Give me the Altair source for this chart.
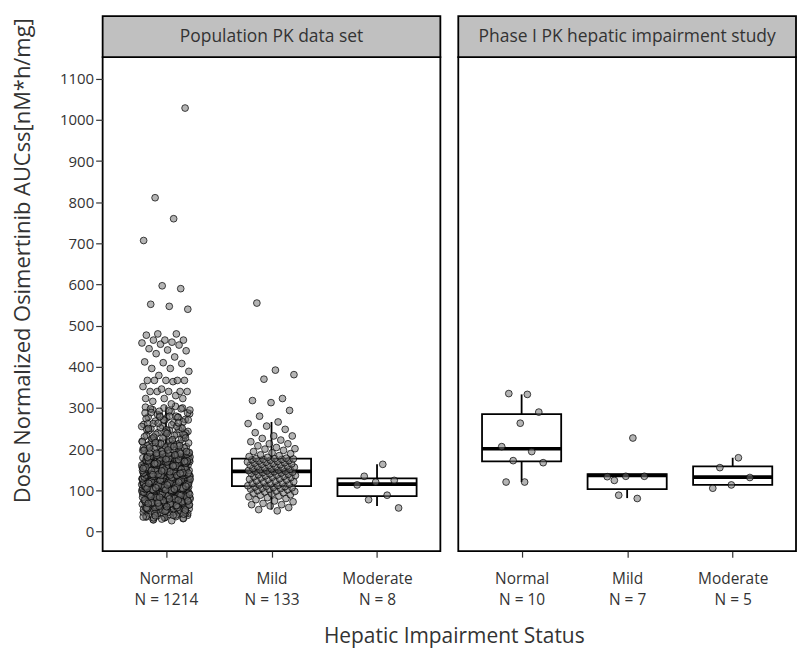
import altair as alt
import pandas as pd

# ---------------- data ----------------
cats = ["Normal", "Mild", "Moderate"]
panels = ["Population PK data set", "Phase I PK hepatic impairment study"]
n_pop = [1214, 133, 8]
n_ph1 = [10, 7, 5]

pop_normal = [
    26, 29, 31, 33, 35, 36, 38, 39, 41, 42, 43, 45, 46, 47, 48, 49, 51, 52, 53, 54,
    55, 56, 57, 58, 59, 60, 61, 61, 62, 63, 64, 65, 66, 66, 67, 68, 69, 70, 70, 71,
    72, 73, 73, 74, 75, 76, 76, 77, 78, 78, 79, 80, 80, 81, 82, 82, 83, 84, 84, 85,
    85, 86, 87, 87, 88, 88, 89, 90, 90, 91, 91, 92, 92, 93, 93, 94, 94, 95, 95, 96,
    96, 97, 97, 98, 98, 99, 99, 100, 100, 100,
    28, 32, 34, 37, 40, 44, 44, 47, 50, 50, 52, 54, 55, 57, 58, 60, 62, 63, 64, 65,
    67, 68, 69, 71, 72, 74, 75, 77, 78, 79, 81, 83, 83, 85, 86, 86, 88, 89, 89, 91,
    92, 93, 94, 95, 96, 97, 98, 99, 45, 53, 59, 66, 73, 79, 84, 90, 93, 97, 56, 62,
    71, 76, 87, 92, 96,
    30, 35, 39, 43, 48, 51, 55, 58, 61, 64, 67, 70, 72, 75, 77, 80, 82, 84, 87, 89,
    91, 94, 96, 98, 33, 42, 49, 57, 63, 69, 74, 79, 85, 88, 92, 95, 99, 38, 52, 60,
    68, 76, 83, 90, 97,
    101, 101, 102, 102, 102, 103, 103, 104, 104, 104, 105, 105, 106, 106, 106, 107,
    107, 108, 108, 108, 109, 109, 110, 110, 110, 111, 111, 112, 112, 112, 113, 113,
    114, 114, 114, 115, 115, 116, 116, 116, 117, 117, 118, 118, 118, 119, 119, 120,
    120, 120, 121, 121, 122, 122, 122, 123, 123, 124, 124, 124, 125, 125, 126, 126,
    126, 127, 127, 128, 128, 128, 129, 129, 130, 130, 130, 131, 131, 132, 132, 132,
    133, 133, 134, 134, 134, 135, 135, 135,
    101, 103, 104, 105, 107, 108, 109, 110, 111, 113, 114, 115, 117, 118, 119, 121,
    122, 123, 125, 126, 127, 129, 130, 131, 133, 134, 102, 106, 109, 112, 115, 119,
    124, 128, 132, 100, 104, 107, 111, 116, 120, 125, 129, 133, 105, 113, 118, 122,
    127, 131, 103, 110, 117, 123, 134,
    100, 102, 105, 107, 109, 112, 114, 116, 119, 121, 123, 126, 128, 130, 133, 135,
    101, 104, 108, 111, 115, 118, 122, 125, 129, 132, 103, 106, 110, 113, 117, 120,
    124, 127, 131, 134,
    136, 136, 137, 138, 138, 139, 140, 140, 141, 142, 142, 143, 144, 144, 145, 146,
    146, 147, 148, 148, 149, 150, 150, 151, 152, 152, 153, 154, 154, 155, 156, 156,
    157, 158, 158, 159, 160, 160, 161, 162, 162, 163, 164, 164, 165, 166, 166, 167,
    168, 168, 169, 170, 170, 171, 172, 172, 173, 174, 174, 175, 176, 176, 177, 178,
    178, 179, 180, 180, 181, 182, 182, 183, 184, 184,
    137, 139, 141, 143, 145, 147, 149, 151, 153, 155, 157, 159, 161, 163, 165, 167,
    169, 171, 173, 175, 177, 179, 181, 183, 138, 142, 146, 150, 154, 158, 162, 166,
    170, 174, 178, 182, 140, 145, 151, 156, 161, 167, 172, 177, 183, 136, 148, 157,
    163, 169, 176, 181,
    136, 139, 142, 145, 148, 151, 154, 157, 160, 163, 166, 169, 172, 175, 178, 181,
    184, 138, 143, 149, 155, 160, 166, 171, 177, 182, 141, 147, 153, 159, 165, 170,
    176, 180,
    186, 188, 190, 192, 194, 196, 198, 200, 202, 204, 206, 209, 211, 214, 216, 219,
    222, 225, 228, 231, 234, 237, 240, 243, 246, 250, 253, 257, 260, 264, 268, 272,
    276, 278, 278, 282, 286, 291, 296, 300, 300, 302, 304,
    185, 187, 189, 191, 193, 195, 197, 199, 201, 203, 205, 208, 210, 213, 215, 218,
    221, 224, 227, 230, 233, 236, 239, 242, 245, 248, 252, 255, 259, 262, 266, 270,
    274, 280, 284, 288, 293, 298, 189, 195, 203, 212, 221, 233, 247, 262, 277, 292,
    192, 207, 226, 251, 271, 288,
    186, 190, 194, 198, 203, 208, 213, 218, 223, 229, 235, 241, 248, 255, 263, 271,
    280, 289, 298, 188, 197, 206, 216, 227, 238, 250, 264, 279, 295,
    310, 316, 323, 323, 323, 330, 340, 340, 340, 340, 340, 346, 352, 364, 367, 367,
    367, 367, 367, 379, 389, 396, 396, 408, 410, 412, 424, 432, 439, 441, 444, 453,
    455, 458, 460, 465, 465, 465, 477, 480, 480, 540, 547, 552, 590, 597, 707, 760,
    811, 1029,
]
pop_mild = [
    50, 53, 58, 62, 65, 65, 68, 72, 74, 77, 80, 82, 84, 86, 88, 89, 91, 93, 94, 96,
    97, 98, 99, 101, 102, 103, 104, 105, 106, 107, 108, 109, 110,
    111, 112, 113, 115, 116, 117, 118, 120, 121, 122, 123, 125, 126, 127, 128, 130,
    131, 132, 133, 134, 135, 136, 137, 138, 139, 140, 141, 142, 143, 144, 145, 146, 146,
    147, 148, 149, 150, 151, 152, 153, 154, 155, 156, 157, 158, 159, 160, 161, 162,
    163, 164, 165, 166, 167, 168, 169, 170, 171, 172, 173, 174, 175, 175, 176, 177, 177,
    178, 180, 182, 184, 186, 189, 191, 194, 197, 200, 201, 204, 208, 213, 213, 218,
    222, 226, 232, 232, 240, 248, 256, 262, 266, 280, 294, 313, 318, 323, 370, 381,
    392, 555,
]
pop_moderate = [163, 134, 124, 120, 113, 88, 77, 57]
ph1_normal = [333, 335, 290, 263, 206, 194, 172, 167, 120, 120]
ph1_mild = [227, 124, 134, 134, 133, 80, 88]
ph1_moderate = [179, 155, 131, 113, 105]

# box statistics per category: Normal, Mild, Moderate
pop_lo = [26, 53, 62]
pop_q1 = [100, 110, 86]
pop_med = [135, 146, 115]
pop_q3 = [184, 177, 129]
pop_hi = [304, 266, 163]

ph1_lo = [120, 81, 113]
ph1_q1 = [170, 103, 113]
ph1_med = [201, 136, 132]
ph1_q3 = [285, 139, 158]
ph1_hi = [333, 139, 179]

# ---------------- styling ----------------
FONT = "Open Sans"
TXT = "#333333"
W = 339
H = 496
STRIP_H = 41
YDOM = [-48, 1153]


def points_df(groups):
    rows = []
    for i, (cat, vals) in enumerate(zip(cats, groups)):
        for v in vals:
            rows.append({"cat": cat, "idx": i + 1, "value": v})
    return pd.DataFrame(rows)


def box_df(lo, q1, med, q3, hi, ns):
    return pd.DataFrame({"cat": cats, "idx": [1, 2, 3], "lo": lo, "q1": q1,
                         "med": med, "q3": q3, "hi": hi, "n": ns})


def label_expr(ns):
    parts = []
    for i, (c, n) in enumerate(zip(cats, ns)):
        parts.append(f"datum.value == {i + 1} ? ['{c}', 'N = {n}']")
    return " : ".join(parts) + " : ''"


def panel(title, groups, stats, ns, show_y):
    pts = points_df(groups)
    bx = box_df(*stats, ns)

    xaxis = alt.Axis(values=[1, 2, 3], labelExpr=label_expr(ns), title=None,
                     grid=False, domain=False, ticks=True, tickSize=6,
                     tickColor=TXT, tickWidth=1.2, labelFont=FONT,
                     labelFontSize=15.5, labelColor=TXT, labelLineHeight=22,
                     labelPadding=14, labelBaseline="top")
    xscale = alt.Scale(domain=[0.4, 3.6], nice=False, zero=False)

    if show_y:
        yaxis = alt.Axis(values=list(range(0, 1101, 100)), format="d", grid=False,
                         domain=False, tickSize=7, tickColor=TXT, tickWidth=1.2,
                         labelFont=FONT, labelFontSize=15, labelColor=TXT,
                         labelPadding=2,
                         title="Dose Normalized Osimertinib AUCss[nM*h/mg]",
                         titleFont=FONT, titleFontSize=22, titleFontWeight="normal",
                         titleColor=TXT, titleX=-73, titleY=204,
                         titleBaseline="alphabetic", titleAngle=270)
    else:
        yaxis = None
    yscale = alt.Scale(domain=YDOM, nice=False, zero=False)

    def X(f):
        return alt.X(f, scale=xscale, axis=xaxis)

    def Y(f):
        return alt.Y(f, scale=yscale, axis=yaxis)

    # very large groups: box hidden beneath the jittered cloud
    base_box = alt.Chart(bx).transform_calculate(
        hw="datum.n > 500 ? 0.2 : 0.375"
    ).transform_calculate(
        xl="datum.idx - datum.hw", xr="datum.idx + datum.hw")

    box = base_box.mark_rect(fill="white", stroke="black", strokeWidth=1.8).encode(
        x=X("xl:Q"), x2="xr:Q", y=Y("q1:Q"), y2="q3:Q")
    w_hi = alt.Chart(bx).mark_rule(color="black", strokeWidth=1.8).encode(
        x=X("idx:Q"), y=Y("q3:Q"), y2="hi:Q")
    w_lo = alt.Chart(bx).mark_rule(color="black", strokeWidth=1.8).encode(
        x=X("idx:Q"), y=Y("lo:Q"), y2="q1:Q")
    med = base_box.transform_filter("datum.n <= 500").mark_rule(
        color="black", strokeWidth=3.6).encode(
        x=X("xl:Q"), x2="xr:Q", y=Y("med:Q"))

    dots = alt.Chart(pts).transform_window(
        row="row_number()", groupby=["cat"]
    ).transform_calculate(
        xpos="datum.idx + ((datum.row * 0.6180339) % 1 - 0.5) * 0.46"
    ).mark_point(shape="circle", filled=True, size=46, fill="#777777",
                 fillOpacity=0.55, stroke="black", strokeOpacity=0.8,
                 strokeWidth=0.9).encode(
        x=X("xpos:Q"), y=Y("value:Q"))

    sdf = pd.DataFrame({"panel": [title]})
    strip = alt.Chart(sdf).mark_rect(fill="#c0c0c0", stroke="black",
                                     strokeWidth=1.8).encode(
        x=alt.value(0), x2=alt.value(W), y=alt.value(-STRIP_H), y2=alt.value(0))
    strip_txt = alt.Chart(sdf).mark_text(font=FONT, fontSize=17.5, color=TXT,
                                         baseline="middle", align="center").encode(
        x=alt.value(W / 2), y=alt.value(-STRIP_H / 2), text="panel:N")

    return alt.layer(box, w_hi, w_lo, med, dots, strip, strip_txt).properties(
        width=W, height=H)


left = panel(panels[0], [pop_normal, pop_mild, pop_moderate],
             [pop_lo, pop_q1, pop_med, pop_q3, pop_hi], n_pop, True)
right = panel(panels[1], [ph1_normal, ph1_mild, ph1_moderate],
              [ph1_lo, ph1_q1, ph1_med, ph1_q3, ph1_hi], n_ph1, False)

chart = alt.hconcat(left, right, spacing=14).properties(
    title=alt.TitleParams("Hepatic Impairment Status", orient="bottom",
                          anchor="middle", font=FONT, fontSize=21,
                          fontWeight="normal", color=TXT, offset=17, dx=50),
    padding={"left": 3, "top": 5, "right": 0, "bottom": 0},
).configure(background="white").configure_view(stroke="black", strokeWidth=1.8)

chart.save("out.html", embed_options={"renderer": "svg", "actions": False})
